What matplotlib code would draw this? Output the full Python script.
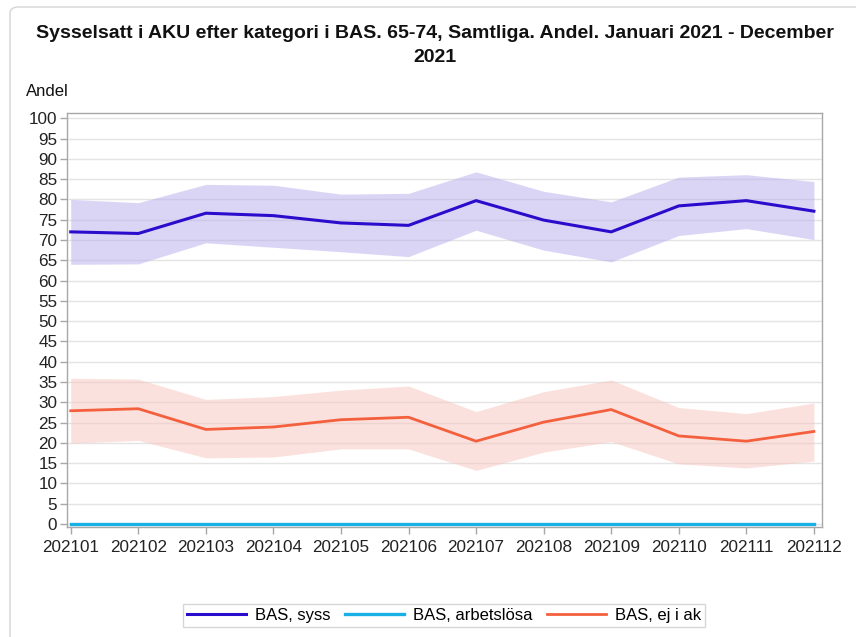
import matplotlib
matplotlib.use("Agg")
import matplotlib.pyplot as plt
from matplotlib.patches import FancyBboxPatch

plt.rcParams['font.family'] = ['Liberation Sans', 'DejaVu Sans']

months = ["202101", "202102", "202103", "202104", "202105", "202106",
          "202107", "202108", "202109", "202110", "202111", "202112"]

syss = [72.0, 71.6, 76.6, 76.0, 74.2, 73.6, 79.7, 74.9, 72.0, 78.4, 79.7, 77.1]
syss_hi = [80.0, 79.2, 83.7, 83.5, 81.3, 81.5, 86.8, 82.0, 79.4, 85.5, 86.1, 84.4]
syss_lo = [64.0, 64.1, 69.3, 68.2, 67.1, 65.9, 72.4, 67.5, 64.6, 71.1, 72.8, 70.1]

arbl = [0, 0, 0, 0, 0, 0, 0, 0, 0, 0, 0, 0]

ejak = [27.9, 28.4, 23.3, 23.9, 25.7, 26.3, 20.4, 25.1, 28.2, 21.7, 20.4, 22.8]
ejak_hi = [35.9, 35.7, 30.7, 31.4, 33.0, 34.0, 27.7, 32.6, 35.5, 28.7, 27.2, 29.8]
ejak_lo = [19.9, 20.6, 16.3, 16.5, 18.5, 18.5, 13.2, 17.7, 20.3, 14.8, 13.8, 15.5]

yticks = list(range(0, 101, 5))

W, H = 856, 637
fig = plt.figure(figsize=(W / 100, H / 100), dpi=100)
ax = fig.add_axes([67 / W, 1 - 527 / H, (822 - 67) / W, (527 - 113) / H])

x = list(range(len(months)))
ax.fill_between(x, syss_lo, syss_hi, color='#b9aded', alpha=0.5, linewidth=0, zorder=3)
ax.fill_between(x, ejak_lo, ejak_hi, color='#f7c5bd', alpha=0.5, linewidth=0, zorder=3)
ax.plot(x, syss, color='#2a0ccc', lw=2.2, zorder=4, label='BAS, syss')
ax.plot(x, arbl, color='#19b0e6', lw=2.4, zorder=4, label='BAS, arbetslösa')
ax.plot(x, ejak, color='#f4603e', lw=2.0, zorder=4, label='BAS, ej i ak')

ax.set_xlim(-0.055, 11.12)
ax.set_ylim(-0.75, 101.3)
ax.set_yticks(yticks)
ax.set_yticklabels([str(v) for v in yticks])
ax.set_xticks(x)
ax.set_xticklabels(months)
ax.grid(axis='y', color='#e4e4e4', lw=1, zorder=0)
ax.set_axisbelow(True)
for s in ax.spines.values():
    s.set_color('#a8a8a8')
    s.set_linewidth(1)
ax.tick_params(axis='both', colors='#a8a8a8', labelcolor='#222222',
               labelsize=12.3, length=5, width=1, direction='out')
ax.tick_params(axis='x', pad=4)
ax.tick_params(axis='y', pad=2)

fig.text(435 / W, 1 - 34 / H,
         "Sysselsatt i AKU efter kategori i BAS. 65-74, Samtliga. Andel. Januari 2021 - December",
         ha='center', va='center', fontsize=14, fontweight='bold', color='#111111')
fig.text(435 / W, 1 - 57 / H, "2021",
         ha='center', va='center', fontsize=14, fontweight='bold', color='#111111')
fig.text(26 / W, 1 - 92 / H, "Andel", ha='left', va='center', fontsize=12, color='#111111')

# outer frame
frame = FancyBboxPatch((10 / W, -0.05), (W + 40) / W, 1 - 7 / H + 0.05,
                       boxstyle="round,pad=0,rounding_size=0.01",
                       transform=fig.transFigure, fill=False,
                       edgecolor='#d4d4d4', lw=1, clip_on=False)
fig.patches.append(frame)

leg = fig.legend(loc='center', bbox_to_anchor=(444 / W, 1 - 615.5 / H), ncol=3,
                 fontsize=12, frameon=True, fancybox=False, edgecolor='#cccccc',
                 handlelength=3.5, handletextpad=0.55, columnspacing=0.9,
                 borderpad=0.25)
leg.get_frame().set_linewidth(1)

fig.savefig("out.png", dpi=100)
